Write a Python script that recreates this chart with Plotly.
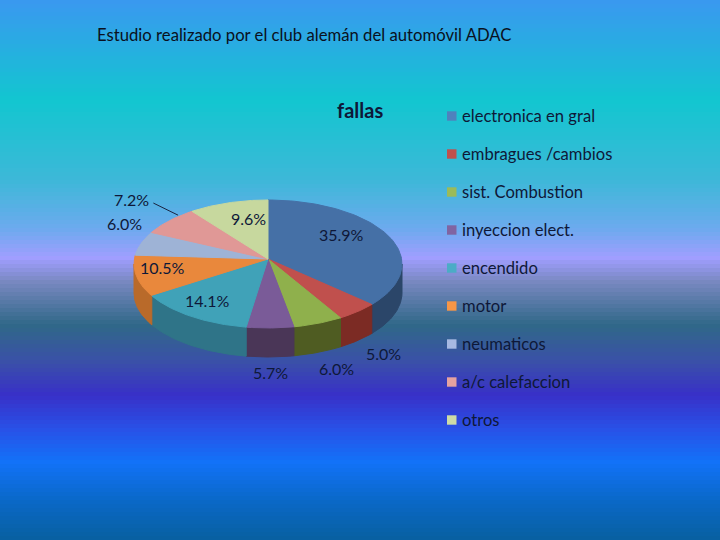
import numpy as np
import plotly.graph_objects as go

# ---------------- data ----------------
categories = ["electronica en gral", "embragues /cambios", "sist. Combustion",
              "inyeccion elect.", "encendido", "motor", "neumaticos",
              "a/c calefaccion", "otros"]
values = [35.9, 5.0, 6.0, 5.7, 14.1, 10.5, 6.0, 7.2, 9.6]
chart_title = "fallas"
page_title = "Estudio realizado por el club alemán del automóvil ADAC"

# ---------------- styles ----------------
top_colors = ["#4570A6", "#C0504D", "#8FB04C", "#7A5B98", "#40A2B8",
              "#E9883C", "#9EB3D6", "#E09896", "#C7D89E"]
side_colors = ["#2B4669", "#7C2B24", "#4F5C22", "#4A3657", "#2F7488",
               "#B96A2A", "#6F82A0", "#A86866", "#98A870"]
legend_colors = ["#4F81BD", "#C0504D", "#9BBB59", "#8064A2", "#4BACC6",
                 "#F79646", "#A7B9E3", "#E6A2A0", "#CDDBA6"]
# label placement factors (x, y) relative to ellipse radii, and outside flag
lab_fx = [0.61, 1.29, 1.37, 1.3, 0.79, 0.80, 1.13, 1.38, 0.5]
lab_fy = [1.06, 1.26, 1.28, 1.25, 0.70, 0.25, 1.95, 1.50, 0.75]
lab_out = [False, True, True, True, False, False, True, True, False]

bg_stops = [(0, "#3A98F0"), (100, "#12C6D0"), (180, "#3DB8D8"), (228, "#6CAAEE"),
            (258, "#A09EFF"), (282, "#7888C0"), (325, "#306888"), (362, "#3A50A8"),
            (395, "#3830C8"), (430, "#2852E8"), (462, "#1272F8"), (500, "#0A68C8"),
            (540, "#0860A0")]

W, H = 720, 540
cx, cy, rx, ry, depth = 268, 264, 134, 64, 29
apex_x, apex_y = 268, 259
FONT = "Lato, Open Sans, sans-serif"


def hex2rgb(h):
    h = h.lstrip("#")
    return np.array([int(h[i:i + 2], 16) for i in (0, 2, 4)], dtype=float)


def bg_color(y):
    for (y0, c0), (y1, c1) in zip(bg_stops[:-1], bg_stops[1:]):
        if y0 <= y <= y1:
            t = (y - y0) / (y1 - y0)
            c = hex2rgb(c0) * (1 - t) + hex2rgb(c1) * t
            return "rgb(%d,%d,%d)" % tuple(c.round())
    return bg_stops[-1][1]


fig = go.Figure()
shapes = []
band = 4
for y in range(0, H, band):
    shapes.append(dict(type="rect", xref="x", yref="y", x0=0, x1=W, y0=y, y1=y + band + 1,
                       fillcolor=bg_color(y + band / 2), line=dict(width=0), layer="below"))

vals = np.array(values, dtype=float)
edges = np.concatenate([[0.0], np.cumsum(vals / vals.sum())]) * 2 * np.pi

# sides (front half only)
for i in range(len(vals)):
    a0, a1 = edges[i], edges[i + 1]
    s0, s1 = max(a0, np.pi / 2), min(a1, 3 * np.pi / 2)
    if s1 <= s0:
        continue
    t = np.linspace(s0, s1, 60)
    xs = cx + rx * np.sin(t)
    ys = cy - ry * np.cos(t)
    px = np.concatenate([xs, xs[::-1], xs[:1]])
    py = np.concatenate([ys, ys[::-1] + depth, ys[:1]])
    fig.add_trace(go.Scatter(x=px, y=py, mode="lines", fill="toself",
                             fillcolor=side_colors[i], line=dict(color=side_colors[i], width=1),
                             hoverinfo="skip", showlegend=False))

# top faces
for i in range(len(vals)):
    a0, a1 = edges[i], edges[i + 1]
    t = np.linspace(a0, a1, 80)
    xs = cx + rx * np.sin(t)
    ys = cy - ry * np.cos(t)
    px = np.concatenate([[apex_x], xs, [apex_x]])
    py = np.concatenate([[apex_y], ys, [apex_y]])
    fig.add_trace(go.Scatter(x=px, y=py, mode="lines", fill="toself",
                             fillcolor=top_colors[i], line=dict(color=top_colors[i], width=1),
                             name=categories[i], hoverinfo="name", showlegend=False))

annotations = []
label_font = dict(family=FONT, size=16, color="#0E1838")
for i in range(len(vals)):
    mid = (edges[i] + edges[i + 1]) / 2
    lx = cx + rx * lab_fx[i] * np.sin(mid)
    ly = cy - ry * lab_fy[i] * np.cos(mid)
    if lab_out[i] and np.cos(mid) < 0:
        ly += depth
    annotations.append(dict(x=lx, y=ly, xref="x", yref="y", text=f"{values[i]:.1f}%",
                            showarrow=False, font=label_font, xanchor="center", yanchor="middle"))

# leader line for the a/c slice
i_ac = 7
mid = (edges[i_ac] + edges[i_ac + 1]) / 2
shapes.append(dict(type="line", xref="x", yref="y",
                   x0=cx + rx * 0.91 * np.sin(mid), y0=cy - ry * 1.13 * np.cos(mid),
                   x1=cx + rx * 1.16 * np.sin(mid), y1=cy - ry * 1.41 * np.cos(mid),
                   line=dict(color="#1A2440", width=1)))

# legend
leg_font = dict(family=FONT, size=16.6, color="#0E1838")
for k, name in enumerate(categories):
    yy = 116 + 38 * k
    shapes.append(dict(type="rect", xref="x", yref="y", x0=447, x1=456.5, y0=yy - 4.7, y1=yy + 4.7,
                       fillcolor=legend_colors[k], line=dict(width=0)))
    annotations.append(dict(x=460, y=yy, xref="x", yref="y", text=name, showarrow=False,
                            font=leg_font, xanchor="left", yanchor="middle"))

annotations.append(dict(x=360, y=110, xref="x", yref="y", text="<b>" + chart_title + "</b>",
                        showarrow=False, xanchor="center", yanchor="middle",
                        font=dict(family=FONT, size=20, color="#0E1838")))
annotations.append(dict(x=95, y=35, xref="x", yref="y", text=page_title, showarrow=False,
                        xanchor="left", yanchor="middle",
                        font=dict(family=FONT, size=16.7, color="#0A1020")))

fig.update_layout(
    width=W, height=H, margin=dict(l=0, r=0, t=0, b=0),
    paper_bgcolor="#2A7FD0", plot_bgcolor="rgba(0,0,0,0)",
    xaxis=dict(range=[0, W], visible=False, fixedrange=True),
    yaxis=dict(range=[H, 0], visible=False, fixedrange=True),
    shapes=shapes, annotations=annotations, showlegend=False,
)

fig.write_html("out.html")
